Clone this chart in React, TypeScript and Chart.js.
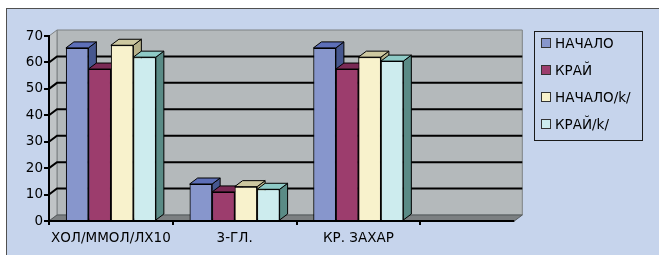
import React, { useEffect, useRef } from "react";
import { Chart, registerables } from "chart.js";

Chart.register(...registerables);

// ---- data ----
const categories = ["ХОЛ/ММОЛ/ЛХ10", "3-ГЛ.", "КР. ЗАХАР", ""];
const seriesNames = ["НАЧАЛО", "КРАЙ", "НАЧАЛО/k/", "КРАЙ/k/"];
const nachalo = [65.5, 14, 65.5, null];
const krai = [57.5, 11, 57.5, null];
const nachaloK = [66.5, 13, 62, null];
const kraiK = [62, 12, 60.5, null];
const yTicksMax = 70;
const yTickStep = 10;

// ---- styles ----
const frontColors = ["#8796cc", "#9c3d6d", "#f8f2cc", "#cdecee"];
const topColors = ["#5d6fb8", "#7a2a55", "#cdc8a0", "#8ecac6"];
const sideColors = ["#46578f", "#6a2045", "#b7b28a", "#5a8b86"];
const FONT = "'DejaVu Sans', Verdana, sans-serif";
const DX = 8;
const DY = 6;

function poly(ctx: CanvasRenderingContext2D, pts: number[][], fill: string, stroke: string, lw = 1) {
  ctx.beginPath();
  ctx.moveTo(pts[0][0], pts[0][1]);
  for (let i = 1; i < pts.length; i++) ctx.lineTo(pts[i][0], pts[i][1]);
  ctx.closePath();
  if (fill) {
    ctx.fillStyle = fill;
    ctx.fill();
  }
  if (stroke) {
    ctx.strokeStyle = stroke;
    ctx.lineWidth = lw;
    ctx.stroke();
  }
}

const threeD = {
  id: "threeD",
  beforeDraw(chart: any) {
    const { ctx, chartArea: a, scales } = chart;
    const y = scales.y;
    const L = a.left, B = a.bottom, T = a.top;
    const R = a.left + a.width * 0.94;
    ctx.save();
    // back wall
    poly(ctx, [[L + DX, T - DY], [R + DX, T - DY], [R + DX, B - DY], [L + DX, B - DY]], "#b4b9bb", "#7d8183");
    // left side wall
    poly(ctx, [[L, T], [L + DX, T - DY], [L + DX, B - DY], [L, B]], "#c0c4c6", "#7d8183");
    // gridlines
    ctx.strokeStyle = "#000";
    ctx.lineWidth = 2;
    for (const t of y.ticks) {
      if (t.value <= 0 || t.value >= yTicksMax) continue;
      const py = y.getPixelForValue(t.value);
      ctx.beginPath();
      ctx.moveTo(L, py);
      ctx.lineTo(L + DX, py - DY);
      ctx.lineTo(R + DX, py - DY);
      ctx.stroke();
    }
    // floor
    poly(ctx, [[L, B], [L + DX, B - DY], [R + DX, B - DY], [R, B]], "#7c8082", "#555a5c");
    ctx.restore();
  },
  afterDatasetsDraw(chart: any) {
    const { ctx, chartArea: a } = chart;
    ctx.save();
    chart.data.datasets.forEach((ds: any, i: number) => {
      const meta = chart.getDatasetMeta(i);
      meta.data.forEach((el: any, j: number) => {
        if (ds.data[j] == null) return;
        const p = el.getProps(["x", "y", "width", "base"], true);
        const l = p.x - p.width / 2;
        const r = p.x + p.width / 2;
        poly(ctx, [[r, p.y], [r + DX, p.y - DY], [r + DX, p.base - DY], [r, p.base]], sideColors[i], "#000");
        poly(ctx, [[l, p.y], [l + DX, p.y - DY], [r + DX, p.y - DY], [r, p.y]], topColors[i], "#000");
        el.draw(ctx);
      });
    });
    const R = a.left + a.width * 0.94;
    ctx.strokeStyle = "#000";
    ctx.lineWidth = 2;
    ctx.beginPath();
    ctx.moveTo(a.left, a.bottom);
    ctx.lineTo(R, a.bottom);
    ctx.stroke();
    ctx.restore();
  },
};

export default function App() {
  const ref = useRef<HTMLCanvasElement>(null);
  useEffect(() => {
    const series = [nachalo, krai, nachaloK, kraiK];
    const chart = new Chart(ref.current as HTMLCanvasElement, {
      type: "bar",
      data: {
        labels: categories,
        datasets: series.map((d, i) => ({
          label: seriesNames[i],
          data: d,
          backgroundColor: frontColors[i],
          borderColor: "#000",
          borderWidth: 1,
          barPercentage: 1,
          categoryPercentage: 0.727,
        })),
      },
      options: {
        responsive: false,
        animation: false,
        devicePixelRatio: 1,
        layout: { padding: { top: 36, right: 115, left: 0, bottom: 0 } },
        plugins: { legend: { display: false }, tooltip: { enabled: false } },
        scales: {
          x: {
            afterFit: (s: any) => { s.height = 34; },
            border: { display: false },
            grid: {
              drawOnChartArea: false,
              drawTicks: true,
              tickLength: 4,
              lineWidth: 2,
              color: (c: any) => (c.type === "tick" && c.index < 4 ? "#000" : "rgba(0,0,0,0)"),
            },
            ticks: { color: "#000", font: { family: FONT, size: 13.5 }, padding: 5, maxRotation: 0, autoSkip: false },
          },
          y: {
            min: 0,
            max: yTicksMax,
            afterFit: (s: any) => { s.width = 49; },
            border: { display: true, color: "#000", width: 2 },
            grid: { drawOnChartArea: false, drawTicks: true, tickLength: 5, lineWidth: 2, color: "#000" },
            ticks: { stepSize: yTickStep, color: "#000", font: { family: FONT, size: 13.5 }, padding: 1 },
          },
        },
      },
      plugins: [threeD],
    });
    return () => chart.destroy();
  }, []);

  return (
    <div lang="bg" style={{ position: "fixed", left: 0, top: 0, width: 659, height: 255, background: "#fff", overflow: "hidden" }}>
      <div style={{ position: "absolute", left: 6, top: 8, width: 700, height: 300, background: "#c6d4ec", border: "1px solid #505050" }} />
      <canvas ref={ref} width={659} height={255} style={{ position: "absolute", left: 0, top: 0, width: 659, height: 255 }} />
      <div style={{ position: "absolute", left: 534, top: 31, width: 107, height: 108, border: "1px solid #1a1a1a", fontFamily: FONT, fontSize: 13.5, color: "#000" }}>
        {seriesNames.map((n, i) => (
          <div key={n} style={{ position: "absolute", left: 6, top: 3 + i * 27, height: 16, display: "flex", alignItems: "center", whiteSpace: "nowrap" }}>
            <span style={{ display: "inline-block", width: 8, height: 8, background: frontColors[i], border: "1px solid #333", marginRight: 4 }} />
            <span>{n}</span>
          </div>
        ))}
      </div>
    </div>
  );
}
